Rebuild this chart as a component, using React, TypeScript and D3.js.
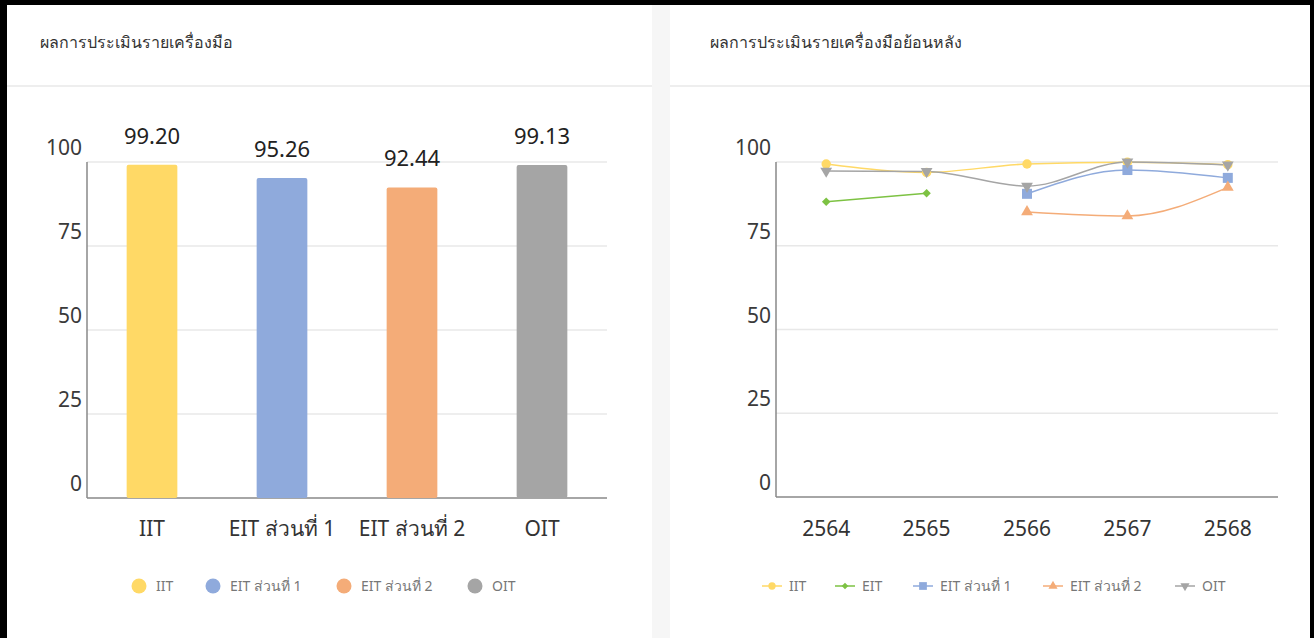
import React, { useEffect, useRef } from 'react';
import * as d3 from 'd3';

const barCategories = ['IIT', 'EIT ส่วนที่ 1', 'EIT ส่วนที่ 2', 'OIT'];
const barValues = [99.2, 95.26, 92.44, 99.13];
const barColors = ['#FFD966', '#8FAADC', '#F4AC78', '#A5A5A5'];

const years = ['2564', '2565', '2566', '2567', '2568'];
const iitTrend = [99.4, 96.9, 99.4, 99.9, 99.2];
const eitTrend = [88.1, 90.7, null, null, null];
const eit1Trend = [null, null, 90.5, 97.6, 95.26];
const eit2Trend = [null, null, 85.1, 83.9, 92.44];
const oitTrend = [97.3, 97.2, 92.8, 100, 99.13];

const yTicks = [0, 25, 50, 75, 100];

const FONT = '"Noto Sans", "DejaVu Sans", sans-serif';

export default function App() {
  const node = useRef<SVGSVGElement | null>(null);

  useEffect(() => {
    const svg = d3.select(node.current);
    svg.selectAll('*').remove();

    // card background + frame
    svg.append('rect').attr('width', 1314).attr('height', 638).attr('fill', '#fff');
    svg.append('rect').attr('x', 652).attr('y', 5).attr('width', 18).attr('height', 633).attr('fill', '#f6f6f6');
    svg.append('rect').attr('x', 7).attr('y', 85).attr('width', 645).attr('height', 2).attr('fill', '#eeeeee');
    svg.append('rect').attr('x', 670).attr('y', 85).attr('width', 640).attr('height', 2).attr('fill', '#eeeeee');
    svg.append('rect').attr('x', 0).attr('y', 0).attr('width', 1314).attr('height', 5).attr('fill', '#000');
    svg.append('rect').attr('x', 0).attr('y', 0).attr('width', 7).attr('height', 638).attr('fill', '#000');
    svg.append('rect').attr('x', 1310).attr('y', 0).attr('width', 4).attr('height', 638).attr('fill', '#000');

    svg.append('text').attr('x', 40).attr('y', 48).text('ผลการประเมินรายเครื่องมือ')
      .attr('font-size', 16).attr('fill', '#333').attr('font-family', FONT);
    svg.append('text').attr('x', 710).attr('y', 48).text('ผลการประเมินรายเครื่องมือย้อนหลัง')
      .attr('font-size', 16).attr('fill', '#333').attr('font-family', FONT);

    const drawFrame = (g, x0, x1, y) => {
      g.selectAll('line.grid').data(yTicks.filter(t => t > 0)).enter().append('line')
        .attr('x1', x0).attr('x2', x1)
        .attr('y1', d => y(d)).attr('y2', d => y(d))
        .attr('stroke', '#e8e8e8').attr('stroke-width', 1.5);
      g.selectAll('text.tick').data(yTicks).enter().append('text')
        .attr('x', x0 - 5).attr('y', d => y(d) - 7)
        .attr('text-anchor', 'end')
        .attr('font-size', 21).attr('fill', '#3a3a3a').attr('font-family', FONT)
        .text(d => d);
      g.append('line').attr('x1', x0).attr('x2', x0).attr('y1', y(100)).attr('y2', y(0))
        .attr('stroke', '#888').attr('stroke-width', 1.5);
      g.append('line').attr('x1', x0).attr('x2', x1).attr('y1', y(0)).attr('y2', y(0))
        .attr('stroke', '#888').attr('stroke-width', 1.5);
    };

    // ---- left: bar chart
    const left = svg.append('g');
    const yL = d3.scaleLinear().domain([0, 100]).range([498, 162]);
    const xL = d3.scaleBand().domain(barCategories).range([87, 607]);
    drawFrame(left, 87, 607, yL);

    const bw = xL.bandwidth() * 0.39;
    left.selectAll('rect.bar').data(barValues).enter().append('rect')
      .attr('x', (d, i) => xL(barCategories[i]) + xL.bandwidth() / 2 - bw / 2)
      .attr('y', d => yL(d))
      .attr('width', bw)
      .attr('height', d => yL(0) - yL(d))
      .attr('rx', 2)
      .attr('fill', (d, i) => barColors[i]);

    left.selectAll('text.val').data(barValues).enter().append('text')
      .attr('x', (d, i) => xL(barCategories[i]) + xL.bandwidth() / 2)
      .attr('y', d => yL(d) - 21)
      .attr('text-anchor', 'middle')
      .attr('font-size', 22).attr('fill', '#222').attr('font-family', FONT)
      .text(d => d.toFixed(2));

    left.selectAll('text.cat').data(barCategories).enter().append('text')
      .attr('x', d => xL(d) + xL.bandwidth() / 2)
      .attr('y', 536)
      .attr('text-anchor', 'middle')
      .attr('font-size', 21).attr('fill', '#333').attr('font-family', FONT)
      .text(d => d);

    const legL = [139, 213, 344, 475];
    barCategories.forEach((c, i) => {
      left.append('circle').attr('cx', legL[i]).attr('cy', 586).attr('r', 7.5).attr('fill', barColors[i]);
      left.append('text').attr('x', legL[i] + 17).attr('y', 591)
        .attr('font-size', 14).attr('fill', '#777').attr('font-family', FONT).text(c);
    });

    // ---- right: trend lines
    const right = svg.append('g');
    const yR = d3.scaleLinear().domain([0, 100]).range([497, 162]);
    const xR = d3.scaleBand().domain(years).range([776, 1278]);
    drawFrame(right, 776, 1278, yR);

    right.selectAll('text.cat').data(years).enter().append('text')
      .attr('x', d => xR(d) + xR.bandwidth() / 2)
      .attr('y', 536)
      .attr('text-anchor', 'middle')
      .attr('font-size', 21).attr('fill', '#333').attr('font-family', FONT)
      .text(d => d);

    const series = [
      { name: 'IIT', values: iitTrend, color: '#FFD966', symbol: d3.symbolCircle, size: 70, rot: 0 },
      { name: 'EIT', values: eitTrend, color: '#7DC243', symbol: d3.symbolSquare, size: 36, rot: 45 },
      { name: 'EIT ส่วนที่ 1', values: eit1Trend, color: '#8FAADC', symbol: d3.symbolSquare, size: 100, rot: 0 },
      { name: 'EIT ส่วนที่ 2', values: eit2Trend, color: '#F4AC78', symbol: d3.symbolTriangle, size: 60, rot: 0 },
      { name: 'OIT', values: oitTrend, color: '#A5A5A5', symbol: d3.symbolTriangle, size: 60, rot: 180 },
    ];

    const cx = i => xR(years[i]) + xR.bandwidth() / 2;
    const line = d3.line()
      .defined(d => d[1] != null)
      .x(d => cx(d[0]))
      .y(d => yR(d[1]))
      .curve(d3.curveMonotoneX);

    series.forEach(s => {
      const pts = s.values.map((v, i) => [i, v]);
      right.append('path').attr('d', line(pts))
        .attr('fill', 'none').attr('stroke', s.color).attr('stroke-width', 1.5);
    });
    series.forEach(s => {
      s.values.forEach((v, i) => {
        if (v == null) return;
        right.append('path')
          .attr('d', d3.symbol().type(s.symbol).size(s.size)())
          .attr('transform', `translate(${cx(i)},${yR(v)}) rotate(${s.rot})`)
          .attr('fill', s.color);
      });
    });

    const legR = [772, 845, 923, 1053, 1185];
    series.forEach((s, i) => {
      right.append('line').attr('x1', legR[i] - 10).attr('x2', legR[i] + 10)
        .attr('y1', 586).attr('y2', 586).attr('stroke', s.color).attr('stroke-width', 1.5);
      right.append('path')
        .attr('d', d3.symbol().type(s.symbol).size(s.size * 0.6)())
        .attr('transform', `translate(${legR[i]},586) rotate(${s.rot})`)
        .attr('fill', s.color);
      right.append('text').attr('x', legR[i] + 17).attr('y', 591)
        .attr('font-size', 14).attr('fill', '#777').attr('font-family', FONT).text(s.name);
    });
  }, []);

  return (
    <svg ref={node} width={1314} height={638}
      style={{ position: 'absolute', left: 0, top: 0, display: 'block' }} />
  );
}
